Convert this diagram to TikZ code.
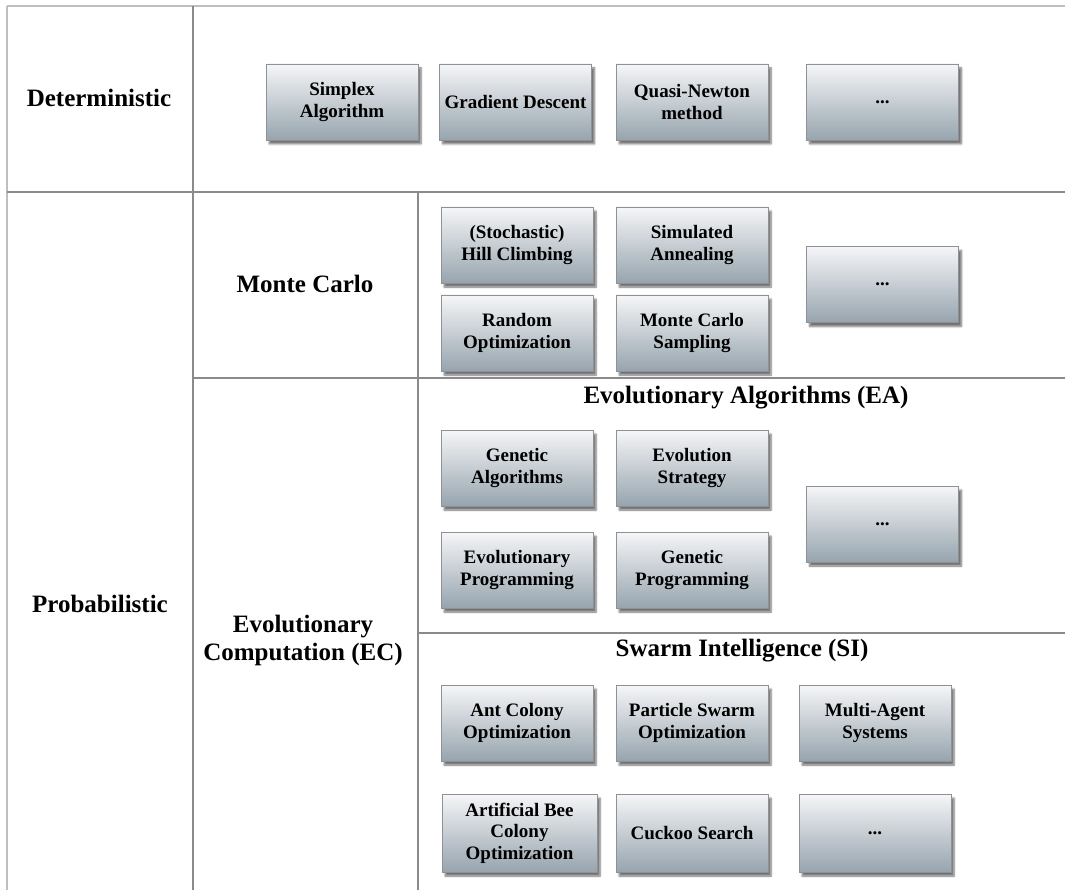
\documentclass[tikz,border=0pt]{standalone}
\usepackage{fontspec}
\setmainfont{Liberation Serif}
\usetikzlibrary{shadows.blur}

\definecolor{boxtop}{HTML}{F5F6F8}
\definecolor{boxbot}{HTML}{97A4AE}
\definecolor{boxedge}{HTML}{8E9296}
\definecolor{gridline}{HTML}{8A8A8A}
\definecolor{frameline}{HTML}{BEBEBE}

\tikzset{
  algbox/.style={draw=boxedge, line width=0.9pt,
    top color=boxtop, bottom color=boxbot,
    minimum width=152pt, minimum height=76pt, inner sep=2pt,
    align=center, font=\fontsize{19}{21.5}\selectfont\bfseries,
    blur shadow={shadow xshift=3pt, shadow yshift=-4pt,
                 shadow blur steps=6, shadow opacity=55}},
  catlabel/.style={font=\fontsize{25}{28}\selectfont\bfseries, align=center},
  frame/.style={draw=frameline, line width=2pt},
  grid/.style={draw=gridline, line width=2.6pt}
}

\begin{document}
\begin{tikzpicture}[x=1pt, y=-1pt]
\useasboundingbox (0,0) rectangle (1065,890);

% outer frame
\draw[frame] (7,6) -- (1065,6);
\draw[frame] (7,6) -- (7,890);

% table rules
\draw[grid] (193,6) -- (193,890);
\draw[grid] (7,192) -- (1065,192);
\draw[grid] (418,192) -- (418,890);
\draw[grid] (193,378) -- (1065,378);
\draw[grid] (418,633) -- (1065,633);

% row and column headings
\node[catlabel] (det)  at (99,98)  {Deterministic};
\node[catlabel] (prob) at (100,604) {Probabilistic};
\node[catlabel] (mc)   at (305,284) {Monte Carlo};
\node[catlabel] (ec)   at (303,640) {Evolutionary\\Computation (EC)};
\node[catlabel] (ea)   at (746,398) {Evolutionary Algorithms (EA)};
\node[catlabel] (si)   at (742,651) {Swarm Intelligence (SI)};

% deterministic methods
\node[algbox] (simplex)  at (342,102)   {Simplex\\Algorithm};
\node[algbox] (gradient) at (515.5,102) {Gradient Descent};
\node[algbox] (quasi)    at (692,102)   {Quasi-Newton\\method};
\node[algbox] (detmore)  at (882.5,102) {...};

% Monte Carlo methods
\node[algbox] (hill)      at (517,245)   {(Stochastic)\\Hill Climbing};
\node[algbox] (annealing) at (692,245)   {Simulated\\Annealing};
\node[algbox] (randopt)   at (517,333)   {Random\\Optimization};
\node[algbox] (mcsample)  at (692,333)   {Monte Carlo\\Sampling};
\node[algbox] (mcmore)    at (882.5,284.5) {...};

% evolutionary algorithms
\node[algbox] (genalg)   at (517,468)   {Genetic\\Algorithms};
\node[algbox] (evostrat) at (692,468)   {Evolution\\Strategy};
\node[algbox] (evoprog)  at (517,570)   {Evolutionary\\Programming};
\node[algbox] (genprog)  at (692,570)   {Genetic\\Programming};
\node[algbox] (eamore)   at (882.5,524) {...};

% swarm intelligence
\node[algbox] (aco)     at (517,723) {Ant Colony\\Optimization};
\node[algbox] (pso)     at (692,723) {Particle Swarm\\Optimization};
\node[algbox] (mas)     at (875,723) {Multi-Agent\\Systems};
\node[algbox, minimum width=155pt, minimum height=78pt] (abc) at (519.5,833) {Artificial Bee\\Colony\\Optimization};
\node[algbox, minimum height=78pt] (cuckoo) at (692,833) {Cuckoo Search};
\node[algbox, minimum height=78pt] (simore) at (875,833) {...};
\end{tikzpicture}
\end{document}
